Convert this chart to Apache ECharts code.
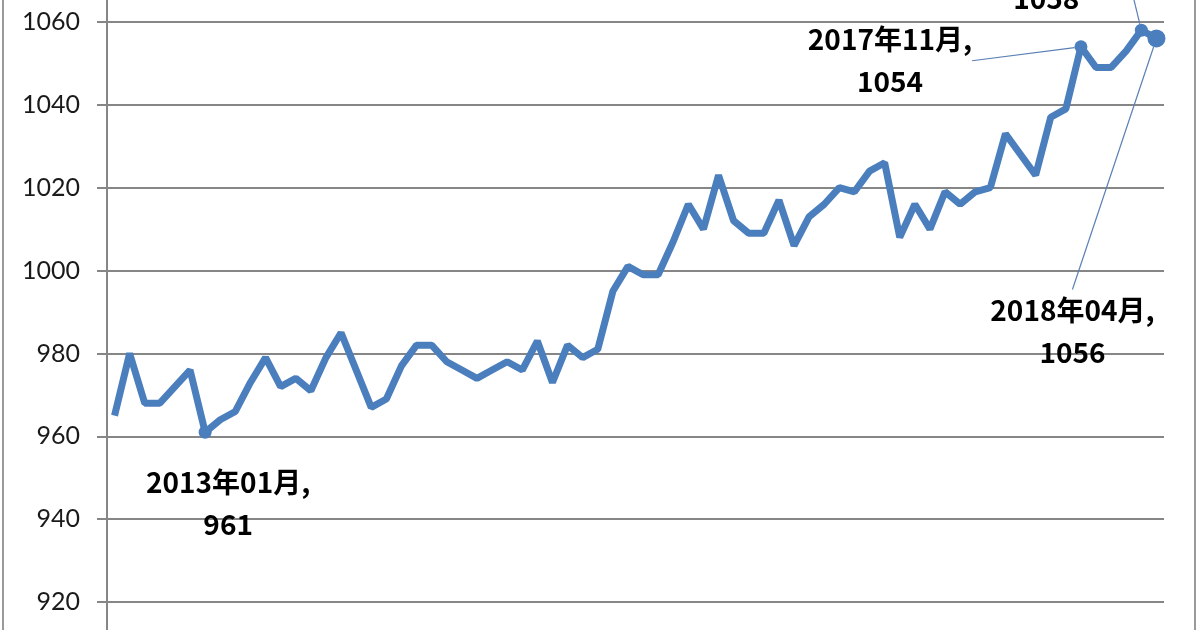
<!DOCTYPE html>
<html>
<head>
<meta charset="utf-8">
<script src="https://cdn.jsdelivr.net/npm/echarts@6/dist/echarts.min.js"></script>
<style>
html,body{margin:0;padding:0;background:#fff;overflow:hidden;width:1200px;height:630px}
#c{position:absolute;left:0;top:-61px;width:1200px;height:746px}
</style>
</head>
<body>
<div id="c"></div>
<script>
const months = [
  '2012年07月','2012年08月','2012年09月','2012年10月','2012年11月','2012年12月',
  '2013年01月','2013年02月','2013年03月','2013年04月','2013年05月','2013年06月',
  '2013年07月','2013年08月','2013年09月','2013年10月','2013年11月','2013年12月',
  '2014年01月','2014年02月','2014年03月','2014年04月','2014年05月','2014年06月',
  '2014年07月','2014年08月','2014年09月','2014年10月','2014年11月','2014年12月',
  '2015年01月','2015年02月','2015年03月','2015年04月','2015年05月','2015年06月',
  '2015年07月','2015年08月','2015年09月','2015年10月','2015年11月','2015年12月',
  '2016年01月','2016年02月','2016年03月','2016年04月','2016年05月','2016年06月',
  '2016年07月','2016年08月','2016年09月','2016年10月','2016年11月','2016年12月',
  '2017年01月','2017年02月','2017年03月','2017年04月','2017年05月','2017年06月',
  '2017年07月','2017年08月','2017年09月','2017年10月','2017年11月','2017年12月',
  '2018年01月','2018年02月','2018年03月','2018年04月'
];
const values = [
  965, 980, 968, 968, 972, 976,
  961, 964, 966, 973, 979, 972,
  974, 971, 979, 985, 976, 967,
  969, 977, 982, 982, 978, 976,
  974, 976, 978, 976, 983, 973,
  982, 979, 981, 995, 1001, 999,
  999, 1007, 1016, 1010, 1023, 1012,
  1009, 1009, 1017, 1006, 1013, 1016,
  1020, 1019, 1024, 1026, 1008, 1016,
  1010, 1019, 1016, 1019, 1020, 1033,
  1028, 1023, 1037, 1039, 1054, 1049,
  1049, 1053, 1058, 1056
];
const labeledMonths = ['2013年01月', '2017年11月', '2018年03月', '2018年04月'];
const yTicks = [900, 920, 940, 960, 980, 1000, 1020, 1040, 1060, 1080];

// label placement (style, not data)
const labelStyle = {
  '2013年01月': {dx: 23, dy: 71, line: false, size: 13},
  '2017年11月': {dx: -191, dy: 14, line: true, size: 13},
  '2018年03月': {dx: -95, dy: -53, line: true, size: 13},
  '2018年04月': {dx: -84, dy: 293, line: true, size: 18}
};

const blue = '#4A7EBD';
const seriesData = values.map((v, i) => {
  const m = months[i];
  if (labeledMonths.indexOf(m) >= 0) {
    const s = labelStyle[m];
    return {
      value: v,
      symbol: 'circle',
      symbolSize: s.size,
      label: {show: true},
      labelLine: {show: s.line}
    };
  }
  return {value: v, symbol: 'none', label: {show: false}};
});

const chart = echarts.init(document.getElementById('c'), null, {renderer: 'canvas'});
chart.setOption({
  animation: false,
  backgroundColor: '#ffffff',
  grid: {left: 107, right: 36, top: 0, bottom: 0, containLabel: false, outerBoundsMode: 'none'},
  xAxis: {
    type: 'category',
    data: months,
    boundaryGap: true,
    axisLine: {show: true, lineStyle: {color: '#868686', width: 2}},
    axisTick: {show: false},
    axisLabel: {show: false},
    splitLine: {show: false}
  },
  yAxis: {
    type: 'value',
    min: yTicks[0],
    max: yTicks[yTicks.length - 1],
    interval: 20,
    axisLine: {show: true, lineStyle: {color: '#868686', width: 2}},
    axisTick: {show: true, inside: false, length: 10, lineStyle: {color: '#868686', width: 2}},
    axisLabel: {
      margin: 27,
      fontSize: 25,
      color: '#1a1a1a',
      fontFamily: 'Lato, "Open Sans", sans-serif',
      formatter: v => String(v)
    },
    splitLine: {show: true, lineStyle: {color: '#868686', width: 2}}
  },
  graphic: [
    {type: 'rect', silent: true, z: 100,
     shape: {x: 3, y: 0, width: 1192, height: 746},
     style: {fill: 'none', stroke: '#9a9a9a', lineWidth: 2}}
  ],
  series: [{
    type: 'line',
    data: seriesData,
    lineStyle: {color: blue, width: 7},
    itemStyle: {color: blue},
    symbol: 'none',
    showSymbol: true,
    label: {
      show: false,
      position: 'inside',
      formatter: p => p.name + ',\n' + p.value,
      fontFamily: '"Noto Sans CJK JP", sans-serif',
      fontWeight: 'bold',
      fontSize: 28,
      lineHeight: 42,
      color: '#000',
      align: 'center',
      verticalAlign: 'middle'
    },
    labelLine: {
      show: true,
      lineStyle: {color: '#5b7fb5', width: 1.2}
    },
    labelLayout: function (p) {
      const s = labelStyle[months[p.dataIndex]];
      if (!s) return {};
      return {dx: s.dx, dy: s.dy};
    },
    z: 3
  }]
});
</script>
</body>
</html>
